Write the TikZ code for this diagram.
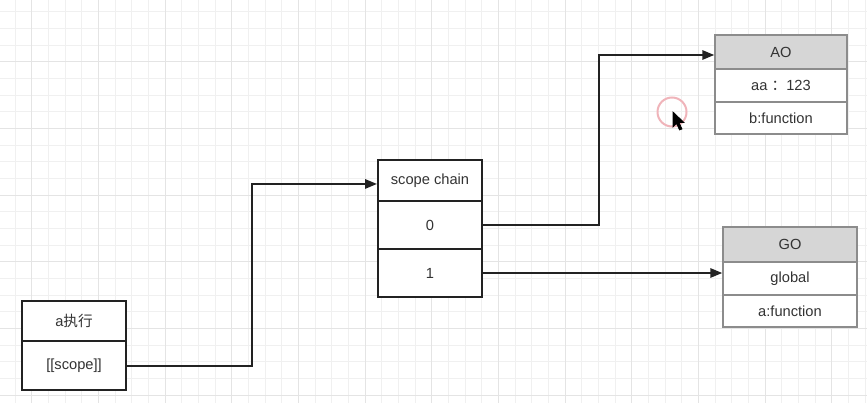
\documentclass[tikz,border=0pt]{standalone}
\usepackage{fontspec}
\setmainfont{Liberation Sans}
\newfontfamily\cjk{Noto Sans CJK SC}
\usetikzlibrary{arrows.meta,calc}

\definecolor{gridminor}{RGB}{240,240,240}
\definecolor{gridmajor}{RGB}{228,228,228}
\definecolor{boxline}{RGB}{34,34,34}
\definecolor{objline}{RGB}{140,140,140}
\definecolor{objhead}{RGB}{214,214,214}
\definecolor{txt}{RGB}{51,51,51}
\definecolor{clickring}{RGB}{240,180,186}

\tikzset{every picture/.style={line width=0.75pt}}
\tikzset{
	cell/.style={draw=boxline, line width=1.5pt, fill=white, text=txt, inner sep=0pt, font=\fontsize{11}{13}\selectfont},
	objcell/.style={draw=objline, line width=1.1pt, fill=white, text=txt, inner sep=0pt, font=\fontsize{11}{13}\selectfont},
	objhead/.style={objcell, fill=objhead},
	conn/.style={draw=boxline, line width=1.5pt, -{Triangle[length=9pt,width=7pt]}},
}

\begin{document}
\begin{tikzpicture}[x=0.75pt,y=0.75pt,yscale=-1,xscale=1]
	\useasboundingbox (0,0) rectangle (867,403);
	\fill[white] (0,0) rectangle (867,403);

	% grid
	\foreach \i in {0,...,51} {
		\draw[gridminor, line width=0.6pt] ({15+16.67*\i},0) -- ++(0,403);
	}
	\foreach \i in {0,...,23} {
		\draw[gridminor, line width=0.6pt] (0,{11.7+16.67*\i}) -- ++(867,0);
	}
	\foreach \i in {0,...,12} {
		\draw[gridmajor, line width=0.8pt] ({31.7+66.67*\i},0) -- ++(0,403);
	}
	\foreach \i in {0,...,5} {
		\draw[gridmajor, line width=0.8pt] (0,{61.7+66.67*\i}) -- ++(867,0);
	}

	% a执行
	\node[cell, minimum width=78pt, minimum height=30pt] (exec) at (74,321) {a{\cjk 执行}};
	\node[cell, minimum width=78pt, minimum height=36.75pt] (scope) at (74,365.5) {[[scope]]};

	% scope chain
	\node[cell, minimum width=78pt, minimum height=30.75pt] (chain) at (430,180.5) {scope chain};
	\node[cell, minimum width=78pt, minimum height=36pt] (chain0) at (430,225) {0};
	\node[cell, minimum width=78pt, minimum height=36pt] (chain1) at (430,273) {1};

	% AO
	\node[objhead, minimum width=99pt, minimum height=25.5pt] (aoh) at (781,52) {AO};
	\node[objcell, minimum width=99pt, minimum height=24.75pt] (aoa) at (781,85.5) {aa {\cjk ：}123};
	\node[objcell, minimum width=99pt, minimum height=24pt] (aob) at (781,118) {b:function};

	% GO
	\node[objhead, minimum width=100.5pt, minimum height=26.25pt] (goh) at (790,244.5) {GO};
	\node[objcell, minimum width=100.5pt, minimum height=24.75pt] (gog) at (790,278.5) {global};
	\node[objcell, minimum width=100.5pt, minimum height=24pt] (gof) at (790,311) {a:function};

	% connectors
	\draw[conn] (scope.east) -| ($(scope.east)!0.5!([yshift=2.6pt]chain.west)$) |- ([yshift=2.6pt]chain.west);
	\draw[conn] (chain0.east) -| ($(chain0.east)!0.5!([yshift=2.25pt]aoh.west)$) |- ([yshift=2.25pt]aoh.west);
	\draw[conn] (chain1.east) -- (chain1.east -| gog.west);

	% click ring and pointer
	\draw[clickring, line width=1.5pt] (672,112) circle (14.5);
	\filldraw[black, line width=0.5pt] (673,112) -- (673,127) -- (676.5,123.5) -- (679.5,130) -- (682,129) -- (679,122.5) -- (684,122.5) -- cycle;

\end{tikzpicture}
\end{document}
